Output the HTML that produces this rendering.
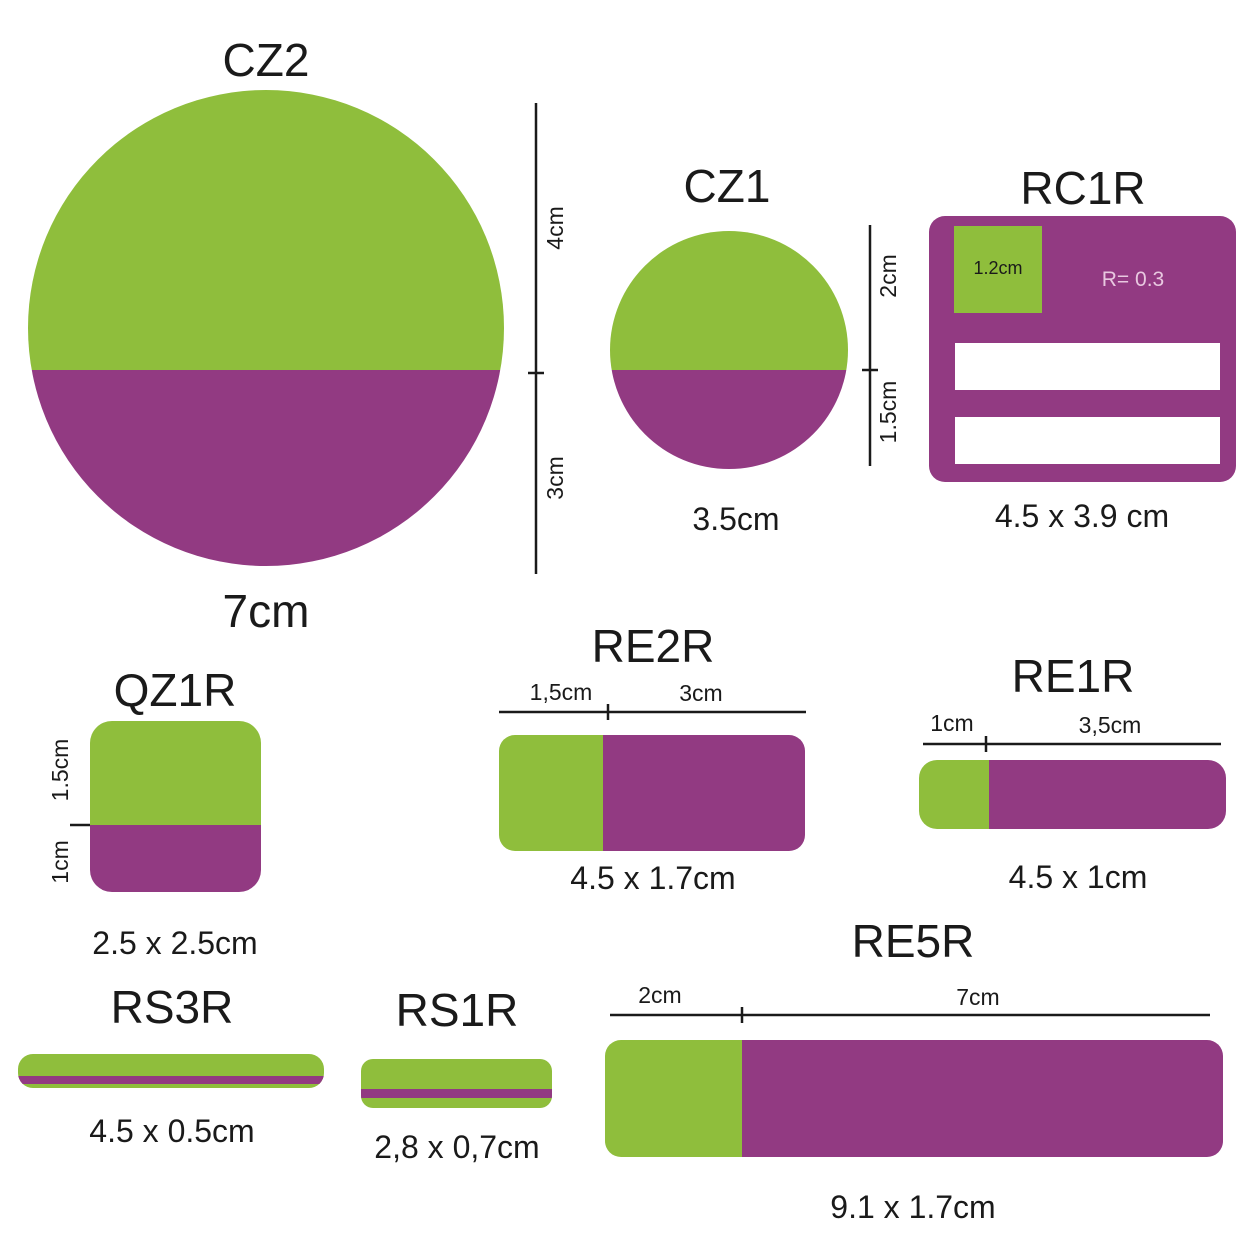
<!DOCTYPE html>
<html><head><meta charset="utf-8"><style>
html,body{margin:0;padding:0;background:#fff}
svg{display:block}
text{font-family:"Liberation Sans",sans-serif;fill:#1a1a1a}
.t{font-size:46px}
.m{font-size:32px}
.s{font-size:23px}
</style></head><body>
<svg width="1241" height="1241" viewBox="0 0 1241 1241">
<defs>
<clipPath id="c2"><circle cx="266" cy="328" r="238"/></clipPath>
<clipPath id="c1"><circle cx="729" cy="350" r="119"/></clipPath>
<clipPath id="q"><rect x="90" y="721" width="171" height="171" rx="22"/></clipPath>
<clipPath id="e2"><rect x="499" y="735" width="306" height="116" rx="16"/></clipPath>
<clipPath id="e1"><rect x="919" y="760" width="307" height="69" rx="18"/></clipPath>
<clipPath id="s3"><rect x="18" y="1054" width="306" height="34" rx="15"/></clipPath>
<clipPath id="s1"><rect x="361" y="1059" width="191" height="49" rx="12"/></clipPath>
<clipPath id="e5"><rect x="605" y="1040" width="618" height="117" rx="16"/></clipPath>
</defs>
<g stroke="#1a1a1a" stroke-width="2.5" fill="none">
<line x1="536" y1="103" x2="536" y2="574"/><line x1="528" y1="373" x2="544" y2="373"/>
<line x1="870" y1="225" x2="870" y2="466"/><line x1="862" y1="370" x2="878" y2="370"/>
<line x1="70" y1="825" x2="90" y2="825"/>
<line x1="499" y1="712" x2="806" y2="712"/><line x1="608" y1="704" x2="608" y2="720"/>
<line x1="923" y1="744" x2="1221" y2="744"/><line x1="986" y1="736" x2="986" y2="752"/>
<line x1="610" y1="1015" x2="1210" y2="1015"/><line x1="742" y1="1007" x2="742" y2="1023"/>
</g>
<g clip-path="url(#c2)"><rect x="20" y="80" width="500" height="290" fill="#8fbe3c"/><rect x="20" y="370" width="500" height="210" fill="#923a82"/></g>
<g clip-path="url(#c1)"><rect x="600" y="220" width="260" height="150" fill="#8fbe3c"/><rect x="600" y="370" width="260" height="110" fill="#923a82"/></g>
<g>
<rect x="929" y="216" width="307" height="266" rx="16" fill="#923a82"/>
<rect x="954" y="226" width="88" height="87" fill="#8fbe3c"/>
<rect x="955" y="343" width="265" height="47" fill="#fff"/>
<rect x="955" y="417" width="265" height="47" fill="#fff"/>
<text x="998" y="274" text-anchor="middle" style="font-size:18px">1.2cm</text>
<text x="1133" y="286" text-anchor="middle" style="font-size:21px;fill:#e8c8e0">R= 0.3</text>
</g>
<g clip-path="url(#q)"><rect x="85" y="715" width="180" height="110" fill="#8fbe3c"/><rect x="85" y="825" width="180" height="70" fill="#923a82"/></g>
<g clip-path="url(#e2)"><rect x="495" y="730" width="108" height="125" fill="#8fbe3c"/><rect x="603" y="730" width="205" height="125" fill="#923a82"/></g>
<g clip-path="url(#e1)"><rect x="915" y="755" width="74" height="80" fill="#8fbe3c"/><rect x="989" y="755" width="240" height="80" fill="#923a82"/></g>
<g clip-path="url(#s3)"><rect x="15" y="1050" width="315" height="40" fill="#8fbe3c"/><rect x="15" y="1076" width="315" height="8" fill="#923a82"/></g>
<g clip-path="url(#s1)"><rect x="355" y="1055" width="200" height="55" fill="#8fbe3c"/><rect x="355" y="1089" width="200" height="9" fill="#923a82"/></g>
<g clip-path="url(#e5)"><rect x="600" y="1035" width="142" height="125" fill="#8fbe3c"/><rect x="742" y="1035" width="485" height="125" fill="#923a82"/></g>

<g text-anchor="middle">
<text class="t" x="266" y="76">CZ2</text>
<text class="t" x="727" y="202">CZ1</text>
<text class="t" x="1083" y="204">RC1R</text>
<text class="t" x="175" y="706">QZ1R</text>
<text class="t" x="653" y="662">RE2R</text>
<text class="t" x="1073" y="692">RE1R</text>
<text class="t" x="913" y="957">RE5R</text>
<text class="t" x="172" y="1023">RS3R</text>
<text class="t" x="457" y="1026">RS1R</text>
<text class="t" x="266" y="627">7cm</text>
<text class="m" x="736" y="530">3.5cm</text>
<text class="m" x="1082" y="527">4.5 x 3.9 cm</text>
<text class="m" x="175" y="954">2.5 x 2.5cm</text>
<text class="m" x="653" y="889">4.5 x 1.7cm</text>
<text class="m" x="1078" y="888">4.5 x 1cm</text>
<text class="m" x="172" y="1142">4.5 x 0.5cm</text>
<text class="m" x="457" y="1158">2,8 x 0,7cm</text>
<text class="m" x="913" y="1218">9.1 x 1.7cm</text>
<text class="s" x="561" y="700">1,5cm</text>
<text class="s" x="701" y="701">3cm</text>
<text class="s" x="952" y="731">1cm</text>
<text class="s" x="1110" y="733">3,5cm</text>
<text class="s" x="660" y="1003">2cm</text>
<text class="s" x="978" y="1005">7cm</text>
<text class="s" transform="translate(563,228) rotate(-90)">4cm</text>
<text class="s" transform="translate(563,478) rotate(-90)">3cm</text>
<text class="s" transform="translate(896,276) rotate(-90)">2cm</text>
<text class="s" transform="translate(896,412) rotate(-90)">1.5cm</text>
<text class="s" transform="translate(68,770) rotate(-90)">1.5cm</text>
<text class="s" transform="translate(68,862) rotate(-90)">1cm</text>
</g>
</svg>
</body></html>
